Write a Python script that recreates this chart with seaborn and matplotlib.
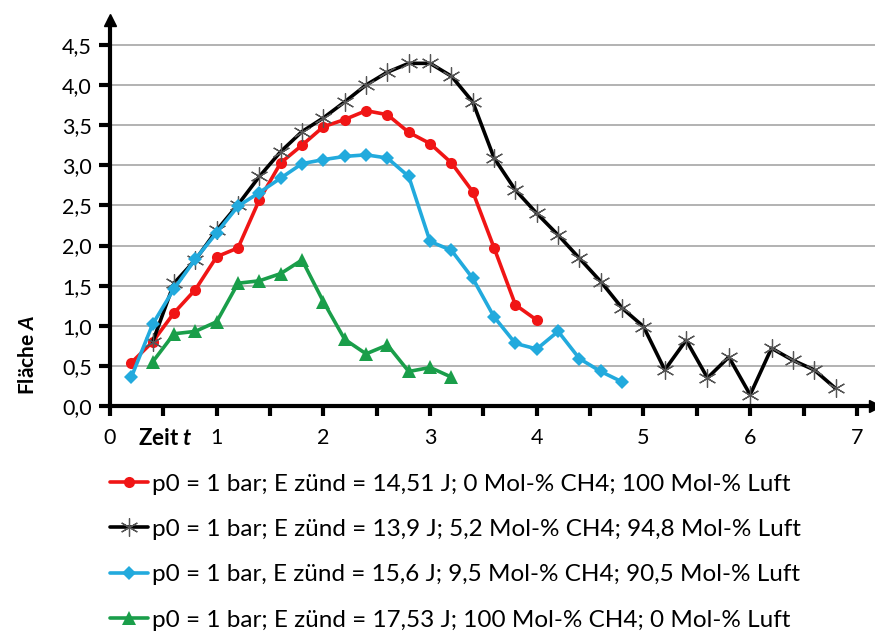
import numpy as np
import pandas as pd
import seaborn as sns
from matplotlib import pyplot as plt
from matplotlib.ticker import MultipleLocator, FuncFormatter

# data
t_red = [0.2, 0.4, 0.6, 0.8, 1.0, 1.2, 1.4, 1.6, 1.8, 2.0, 2.2, 2.4, 2.6, 2.8, 3.0, 3.2, 3.4, 3.6, 3.8, 4.0]
a_red = [0.54, 0.80, 1.16, 1.45, 1.86, 1.97, 2.57, 3.03, 3.25, 3.48, 3.57, 3.68, 3.63, 3.41, 3.27, 3.03, 2.67, 1.97, 1.26, 1.07]

t_black = [0.4, 0.6, 0.8, 1.0, 1.2, 1.4, 1.6, 1.8, 2.0, 2.2, 2.4, 2.6, 2.8, 3.0, 3.2, 3.4, 3.6, 3.8, 4.0,
           4.2, 4.4, 4.6, 4.8, 5.0, 5.2, 5.4, 5.6, 5.8, 6.0, 6.2, 6.4, 6.6, 6.8]
a_black = [0.80, 1.53, 1.82, 2.19, 2.51, 2.86, 3.17, 3.42, 3.59, 3.79, 4.00, 4.16, 4.27, 4.27, 4.11, 3.79, 3.09, 2.69, 2.40,
           2.13, 1.84, 1.55, 1.22, 0.99, 0.45, 0.82, 0.35, 0.61, 0.14, 0.72, 0.57, 0.45, 0.22]

t_blue = [0.2, 0.4, 0.6, 0.8, 1.0, 1.2, 1.4, 1.6, 1.8, 2.0, 2.2, 2.4, 2.6, 2.8, 3.0, 3.2, 3.4, 3.6, 3.8, 4.0, 4.2, 4.4, 4.6, 4.8]
a_blue = [0.36, 1.02, 1.46, 1.83, 2.16, 2.49, 2.66, 2.84, 3.02, 3.07, 3.11, 3.13, 3.09, 2.86, 2.05, 1.94, 1.59, 1.11, 0.78, 0.71, 0.93, 0.59, 0.43, 0.30]

t_green = [0.4, 0.6, 0.8, 1.0, 1.2, 1.4, 1.6, 1.8, 2.0, 2.2, 2.4, 2.6, 2.8, 3.0, 3.2]
a_green = [0.55, 0.90, 0.93, 1.05, 1.53, 1.56, 1.65, 1.82, 1.30, 0.83, 0.65, 0.76, 0.43, 0.48, 0.36]

labels = [
    'p0 = 1 bar; E zünd = 14,51 J; 0 Mol-% CH4; 100 Mol-% Luft',
    'p0 = 1 bar; E zünd = 13,9 J; 5,2 Mol-% CH4; 94,8 Mol-% Luft',
    'p0 = 1 bar, E zünd = 15,6 J; 9,5 Mol-% CH4; 90,5 Mol-% Luft',
    'p0 = 1 bar; E zünd = 17,53 J; 100 Mol-% CH4; 0 Mol-% Luft',
]

sns.set_theme(style='white')
plt.rcParams['font.family'] = ['Lato', 'DejaVu Sans']
plt.rcParams['mathtext.fontset'] = 'custom'
plt.rcParams['mathtext.it'] = 'Lato:bold:italic'
plt.rcParams['mathtext.rm'] = 'Lato:bold'

fig = plt.figure(figsize=(8.75, 6.35), dpi=100)
ax = fig.add_axes([110 / 875, 229 / 635, 765 / 875, 386 / 635])

series = [
    (t_red, a_red, dict(color='#f01515', marker='o', markersize=8, markeredgewidth=0)),
    (t_black, a_black, dict(color='black', marker=(6, 2, 0), markersize=13, markeredgewidth=0.9,
                            markeredgecolor='#555555')),
    (t_blue, a_blue, dict(color='#22aadd', marker='D', markersize=7, markeredgewidth=0)),
    (t_green, a_green, dict(color='#1a9e4a', marker='^', markersize=10, markeredgewidth=0)),
]
for (t, a, kw), lab in zip(series, labels):
    df = pd.DataFrame({'t': t, 'A': a})
    sns.lineplot(data=df, x='t', y='A', ax=ax, linewidth=2.6, label=lab, **kw)

ax.set_xlim(0, 7.17)
ax.set_ylim(0, 4.81)

# axes styling
for s in ['top', 'right']:
    ax.spines[s].set_visible(False)
for s in ['left', 'bottom']:
    ax.spines[s].set_linewidth(3)
    ax.spines[s].set_color('black')
ax.plot(1, 0, '>', color='black', markersize=9, transform=ax.transAxes, clip_on=False)
ax.plot(0, 1, '^', color='black', markersize=9, transform=ax.transAxes, clip_on=False)

ax.yaxis.set_major_locator(MultipleLocator(0.5))
ax.yaxis.set_major_formatter(FuncFormatter(lambda v, p: f'{v:.1f}'.replace('.', ',')))
ax.xaxis.set_major_locator(MultipleLocator(1))
ax.xaxis.set_minor_locator(MultipleLocator(0.5))
ax.xaxis.set_major_formatter(FuncFormatter(lambda v, p: f'{v:.0f}'))
ax.tick_params(axis='y', which='major', direction='out', length=8, width=3, left=True, labelsize=15.5, pad=5,
               colors='black')
ax.tick_params(axis='x', which='both', direction='out', length=7, width=3, bottom=True, labelsize=15.5, pad=9,
               colors='black')
ax.grid(axis='y', color='#a6a6a6', linewidth=1.2)
ax.grid(axis='x', visible=False)
ax.set_axisbelow(True)

ax.set_ylabel('Fläche $\\it{A}$', fontsize=15, fontweight='bold', color='black')
ax.yaxis.set_label_coords(-0.107, 0.132)
ax.yaxis.label.set_verticalalignment('center')
ax.set_xlabel('')
ax.text(0.52, -0.083, 'Zeit $\\it{t}$', transform=ax.get_xaxis_transform(), ha='center', va='center',
        fontsize=16, fontweight='bold', color='black')

ax.legend(loc='upper left', bbox_to_anchor=(0.0, -0.175), frameon=False, fontsize=17.5, labelcolor='black',
          handlelength=1.56, handletextpad=0.16, labelspacing=1.0, borderaxespad=0, borderpad=0)

fig.savefig('out.png', dpi=100)
